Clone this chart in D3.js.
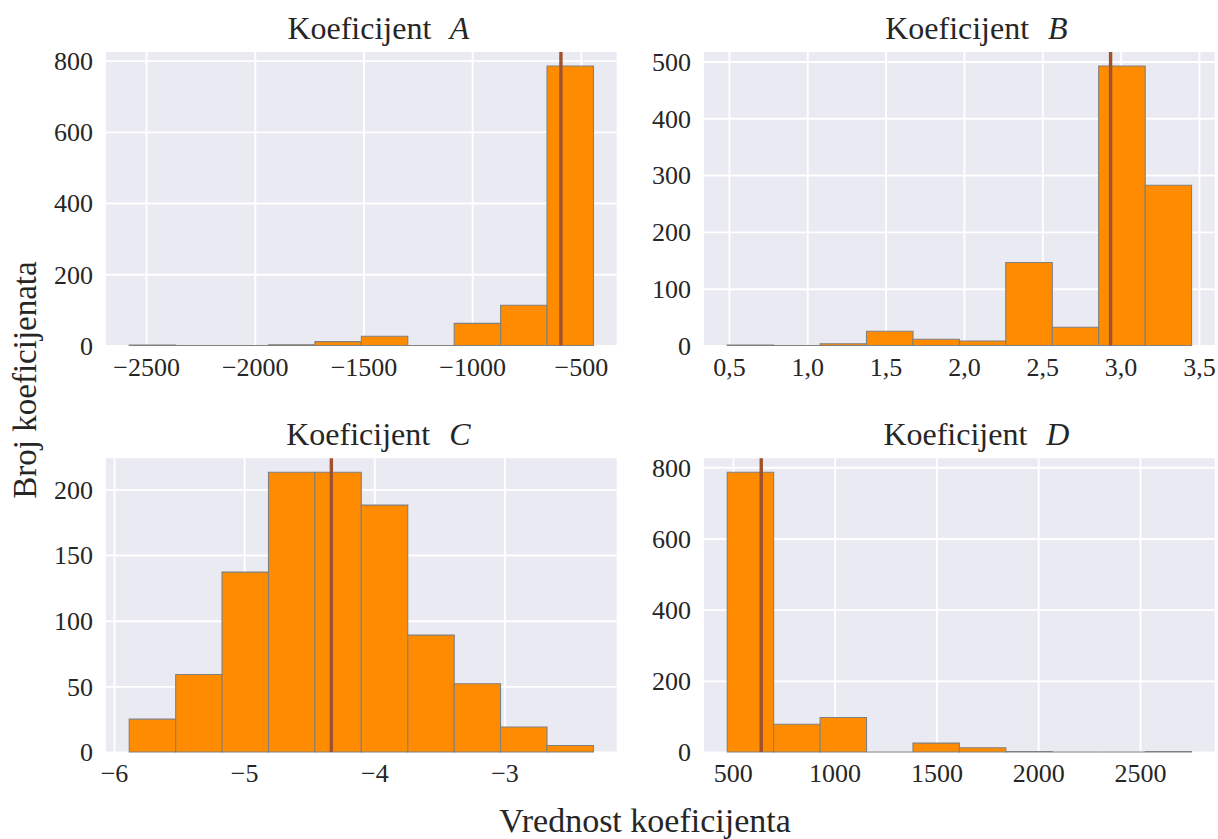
<!DOCTYPE html>
<html>
<head>
<meta charset="utf-8">
<script src="https://cdn.jsdelivr.net/npm/d3@7"></script>
<style>
  html, body { margin: 0; padding: 0; background: #ffffff; }
  svg { display: block; }
  text { font-family: "Liberation Serif", "DejaVu Serif", serif; fill: #262626; }
</style>
</head>
<body>
<svg id="chart" width="1218" height="839"></svg>
<script>
// ---------------- DATA ----------------
const panelLetters = ["A", "B", "C", "D"];

const edgesA  = [-2577.7, -2364.1, -2150.5, -1936.9, -1723.3, -1509.7, -1296.1, -1082.5, -868.9, -655.3, -441.7];
const countsA = [1, 0, 0, 2, 11, 26, 0, 62, 113, 785];
const meanA   = -591.5;
const xTicksA = [-2500, -2000, -1500, -1000, -500];
const yTicksA = [0, 200, 400, 600, 800];

const edgesB  = [0.489, 0.785, 1.082, 1.378, 1.675, 1.971, 2.267, 2.564, 2.860, 3.157, 3.453];
const countsB = [1, 0, 3, 25, 11, 8, 146, 32, 492, 282];
const meanB   = 2.936;
const xTicksB = [0.5, 1.0, 1.5, 2.0, 2.5, 3.0, 3.5];
const yTicksB = [0, 100, 200, 300, 400, 500];

const edgesC  = [-5.883, -5.526, -5.170, -4.813, -4.456, -4.100, -3.743, -3.386, -3.030, -2.673, -2.316];
const countsC = [25, 59, 137, 213, 213, 188, 89, 52, 19, 5];
const meanC   = -4.33;
const xTicksC = [-6, -5, -4, -3];
const yTicksC = [0, 50, 100, 150, 200];

const edgesD  = [472.5, 700.6, 928.7, 1156.8, 1384.9, 1613.0, 1841.1, 2069.2, 2297.3, 2525.4, 2753.4];
const countsD = [786, 78, 97, 0, 25, 12, 1, 0, 0, 1];
const meanD   = 639.6;
const xTicksD = [500, 1000, 1500, 2000, 2500];
const yTicksD = [0, 200, 400, 600, 800];

const xLabel = "Vrednost koeficijenta";
const yLabel = "Broj koeficijenata";
const titleWord = "Koeficijent";

// ---------------- LAYOUT / STYLE ----------------
const colsX = [[106, 616.7], [704, 1214.8]];
const rowsY = [[52, 345.5], [458.3, 752]];
const bgColor = "#EAEAF2";
const barFill = "#FF8C00";
const barEdge = "#808080";
const meanColor = "#A0522D";
const serif = '"Liberation Serif", "DejaVu Serif", serif';

const fmtComma = v => d3.format(".1f")(v).replace(".", ",");
const fmtInt = v => d3.format("d")(v);

const panels = [
  { edges: edgesA, counts: countsA, mean: meanA, xt: xTicksA, yt: yTicksA, col: 0, row: 0, fmt: fmtInt },
  { edges: edgesB, counts: countsB, mean: meanB, xt: xTicksB, yt: yTicksB, col: 1, row: 0, fmt: fmtComma },
  { edges: edgesC, counts: countsC, mean: meanC, xt: xTicksC, yt: yTicksC, col: 0, row: 1, fmt: fmtInt },
  { edges: edgesD, counts: countsD, mean: meanD, xt: xTicksD, yt: yTicksD, col: 1, row: 1, fmt: fmtInt }
];

const svg = d3.select("#chart");

panels.forEach((p, i) => {
  const [x0, x1] = colsX[p.col];
  const [y0, y1] = rowsY[p.row];
  const lo = p.edges[0], hi = p.edges[p.edges.length - 1];
  const pad = (hi - lo) * 0.05;
  const x = d3.scaleLinear().domain([lo - pad, hi + pad]).range([x0, x1]);
  const yMax = d3.max(p.counts) * 1.05;
  const y = d3.scaleLinear().domain([0, yMax]).range([y1, y0]);

  const g = svg.append("g");

  // background
  g.append("rect").attr("x", x0).attr("y", y0)
    .attr("width", x1 - x0).attr("height", y1 - y0).attr("fill", bgColor);

  // grid via axes
  const gx = g.append("g").attr("transform", `translate(0,${y1})`)
    .call(d3.axisBottom(x).tickValues(p.xt).tickSize(-(y1 - y0)).tickFormat(p.fmt));
  const gy = g.append("g").attr("transform", `translate(${x0},0)`)
    .call(d3.axisLeft(y).tickValues(p.yt).tickSize(-(x1 - x0)).tickFormat(fmtInt));

  [gx, gy].forEach(ax => {
    ax.attr("font-family", serif).attr("font-size", null);
    ax.select(".domain").remove();
    ax.selectAll(".tick line").attr("stroke", "#ffffff").attr("stroke-width", 1.9);
    ax.selectAll(".tick text")
      .attr("font-family", serif)
      .style("font-family", serif)
      .style("font-size", "26px").attr("fill", "#262626");
  });
  gx.selectAll(".tick text").attr("dy", null).attr("y", 30);
  gy.selectAll(".tick text").attr("x", -13).attr("dy", "0.34em");

  // bars
  const bins = p.counts.map((c, k) => ({ a: p.edges[k], b: p.edges[k + 1], c }));
  g.append("g").selectAll("path").data(bins).join("path")
    .attr("d", d => `M${x(d.a)},${y(0)}V${y(d.c)}H${x(d.b)}V${y(0)}Z`)
    .attr("fill", barFill).attr("stroke", barEdge).attr("stroke-width", 1.1);

  // mean line
  g.append("line")
    .attr("x1", x(p.mean)).attr("x2", x(p.mean))
    .attr("y1", y0).attr("y2", y1)
    .attr("stroke", meanColor).attr("stroke-width", 3.4);

  // title
  const t = g.append("text")
    .attr("x", (x0 + x1) / 2 + 17).attr("y", y0 - 13)
    .attr("text-anchor", "middle").style("font-size", "32px");
  t.append("tspan").text(titleWord);
  t.append("tspan").attr("dx", 11).style("font-style", "italic").text(" " + panelLetters[i]);
});

// shared labels
svg.append("text").attr("x", 645).attr("y", 832)
  .attr("text-anchor", "middle").style("font-size", "34px").text(xLabel);
svg.append("text")
  .attr("transform", "translate(36,380) rotate(-90)")
  .attr("text-anchor", "middle").style("font-size", "33px").text(yLabel);
</script>
</body>
</html>
